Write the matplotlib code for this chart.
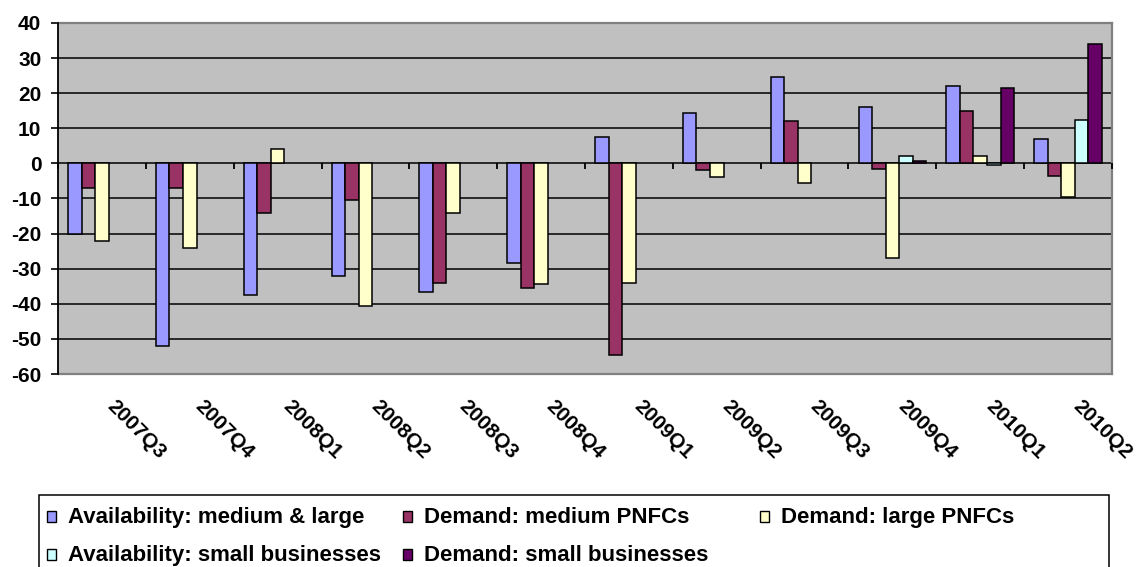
import numpy as np
import matplotlib
matplotlib.use("Agg")
import matplotlib.pyplot as plt
import matplotlib.transforms as mtransforms
from matplotlib.patches import Rectangle

# Quarterly survey balances (% net balance)
quarters = ["2007Q3", "2007Q4", "2008Q1", "2008Q2", "2008Q3", "2008Q4",
            "2009Q1", "2009Q2", "2009Q3", "2009Q4", "2010Q1", "2010Q2"]

avail_med_large = [-20, -52, -37.5, -32, -36.5, -28.5, 7.5, 14.5, 24.5, 16, 22, 7]
demand_medium = [-7, -7, -14, -10.5, -34, -35.5, -54.5, -2, 12, -1.5, 15, -3.5]
demand_large = [-22, -24, 4, -40.5, -14, -34.5, -34, -4, -5.5, -27, 2, -9.5]
avail_small = [np.nan] * 9 + [2, -0.5, 12.5]
demand_small = [np.nan] * 9 + [0.7, 21.5, 34]

series_names = ["Availability: medium & large", "Demand: medium PNFCs",
                "Demand: large PNFCs", "Availability: small businesses",
                "Demand: small businesses"]
series_values = [avail_med_large, demand_medium, demand_large,
                 avail_small, demand_small]
series_colors = ["#9999FF", "#993366", "#FFFFCC", "#CCFFFF", "#660066"]

y_ticks = list(range(-60, 41, 10))

FONT = "Liberation Sans"
W, H, DPI = 1143, 567, 100

fig = plt.figure(figsize=(W / DPI, H / DPI), dpi=DPI, facecolor="white")
# plot area in pixel coordinates
left, right, top, bottom = 58, 1112, 23, 374
ax = fig.add_axes([left / W, 1 - bottom / H, (right - left) / W, (bottom - top) / H])
ax.set_facecolor("#C0C0C0")

n_series = len(series_values)
bar_w = 1 / 6.5
x = np.arange(len(quarters))
for i, (vals, col) in enumerate(zip(series_values, series_colors)):
    ax.bar(x + (i - (n_series - 1) / 2) * bar_w, vals, width=bar_w, color=col,
           edgecolor="black", linewidth=1.1, zorder=3)

ax.set_xlim(-0.5, len(quarters) - 0.5)
ax.set_ylim(-60, 40)
ax.set_yticks(y_ticks)
ax.set_yticklabels([str(t) for t in y_ticks], fontfamily=FONT,
                   fontweight="bold", fontsize=15)
ax.tick_params(axis="y", length=5, width=1.2, pad=7, color="black")

# horizontal gridlines
for t in y_ticks[1:-1]:
    ax.axhline(t, color="black", linewidth=1.1, zorder=1)

# category tick marks along the zero line
bounds = np.arange(len(quarters) + 1) - 0.5
ax.plot(bounds, np.zeros_like(bounds), linestyle="none", marker=3,
        markersize=4.5, markeredgewidth=1.3, color="black", zorder=4,
        clip_on=False)

ax.set_xticks([])
for s in ["top", "right", "bottom"]:
    ax.spines[s].set_color("#808080")
    ax.spines[s].set_linewidth(1.6)
ax.spines["left"].set_color("black")
ax.spines["left"].set_linewidth(1.3)
ax.spines["left"].set_zorder(5)

# rotated category labels below the plot area
label_tr = mtransforms.offset_copy(
    mtransforms.blended_transform_factory(ax.transData, ax.transAxes),
    fig=fig, x=15, y=-23, units="dots")
for xi, q in zip(x, quarters):
    ax.text(xi, 0, q, transform=label_tr, rotation=-45, rotation_mode="anchor",
            ha="left", va="top", fontfamily=FONT, fontweight="bold",
            fontsize=15)

# legend box and entries
def fx(px):
    return px / W

def fy(py):
    return 1 - py / H

fig.patches.append(Rectangle((fx(39), fy(600)), fx(1109) - fx(39), fy(495) - fy(600),
                             transform=fig.transFigure, facecolor="white",
                             edgecolor="black", linewidth=1.1, zorder=0))
legend_layout = [(0, 47, 516), (1, 403, 516), (2, 760, 516),
                 (3, 47, 554), (4, 403, 554)]
for idx, mx, my in legend_layout:
    fig.patches.append(Rectangle((fx(mx), fy(my + 6)), fx(9), 11 / H,
                                 transform=fig.transFigure,
                                 facecolor=series_colors[idx],
                                 edgecolor="black", linewidth=1.0, zorder=2))
    fig.text(fx(mx + 21), fy(my + 7), series_names[idx], ha="left",
             va="baseline", fontfamily=FONT, fontweight="bold", fontsize=16)

fig.savefig("out.png", dpi=DPI, facecolor="white")
